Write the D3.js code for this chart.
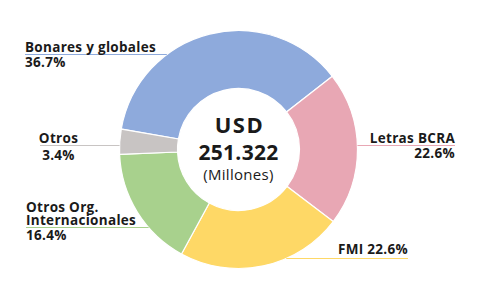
<!DOCTYPE html>
<html>
<head>
<meta charset="utf-8">
<script src="https://cdn.jsdelivr.net/npm/d3@7"></script>
<style>
  html, body { margin: 0; padding: 0; background: #fff; }
  svg { display: block; }
  text { font-family: "Open Sans", sans-serif; fill: #1a1a1a; }
</style>
</head>
<body>
<svg id="chart" width="480" height="300"></svg>
<script>
// ---- Data ----
const categories = ["Bonares y globales", "Letras BCRA", "FMI", "Otros Org. Internacionales", "Otros"];
const values = [36.7, 20.9, 22.6, 16.4, 3.4];           // slice shares (%)
const percentLabels = ["36.7%", "22.6%", "22.6%", "16.4%", "3.4%"]; // printed labels
const colors = ["#8eaadc", "#e8a7b4", "#fed866", "#a8d18d", "#c8c4c3"];
const centerLines = ["USD", "251.322", "(Millones)"];

// ---- Layout ----
const cx = 238.5, cy = 149.5, R = 119, r0 = 61;
const svg = d3.select("#chart");
const g = svg.append("g").attr("transform", `translate(${cx},${cy})`);

const startDeg = -80.1;
const pie = d3.pie().sort(null).value(d => d)
  .startAngle(startDeg * Math.PI / 180)
  .endAngle(startDeg * Math.PI / 180 + 2 * Math.PI);
const arc = d3.arc().innerRadius(r0).outerRadius(R);

g.selectAll("path.slice").data(pie(values)).join("path")
  .attr("class", "slice")
  .attr("d", arc)
  .attr("fill", (d, i) => colors[i])
  .attr("stroke", "#fff")
  .attr("stroke-width", 1.2);

// center text
g.append("text").attr("text-anchor", "middle").attr("x", 1).attr("y", -17)
  .style("font-weight", 700).style("font-size", "22px").style("letter-spacing", "1.5px").text(centerLines[0]);
g.append("text").attr("text-anchor", "middle").attr("y", 10.5)
  .style("font-weight", 700).style("font-size", "21px").style("letter-spacing", "0.3px").text(centerLines[1]);
g.append("text").attr("text-anchor", "middle").attr("y", 30)
  .style("font-weight", 400).style("font-size", "15px").style("letter-spacing", "0.3px").text(centerLines[2]);

// edge of donut at a given y
function edgeX(y, side) {
  const dy = y - cy;
  return cx + side * Math.sqrt(Math.max(0, R * R - dy * dy));
}

const labelSpecs = [
  { i: 0, lines: [categories[0], percentLabels[0]], anchor: "start", x: 25, ys: [52, 67], lineY: 54.5, side: -1, lx: 25 },
  { i: 4, lines: [categories[4], percentLabels[4]], anchor: "middle", x: 58.5, ys: [142.5, 159.5], lineY: 145.5, side: -1, lx: 40 },
  { i: 3, lines: ["Otros Org.", "Internacionales", percentLabels[3]], anchor: "start", x: 26, ys: [211.5, 225, 240], lineY: 227.5, side: -1, lx: 26 },
  { i: 1, lines: ["Letras BCRA", percentLabels[1]], anchor: "end", x: 455, ys: [142.5, 158], lineY: 145.5, side: 1, lx: 455 },
  { i: 2, lines: [categories[2] + " " + percentLabels[2]], anchor: "end", x: 408, ys: [254], lineY: 258.5, side: 1, lx: 408 }
];

labelSpecs.forEach(s => {
  svg.append("line")
    .attr("x1", s.lx).attr("x2", edgeX(s.lineY, s.side))
    .attr("y1", s.lineY).attr("y2", s.lineY)
    .attr("stroke", colors[s.i]).attr("stroke-width", 1.2);
  s.lines.forEach((t, k) => {
    svg.append("text").attr("x", s.x).attr("y", s.ys[k])
      .attr("text-anchor", s.anchor)
      .style("font-weight", 700).style("font-size", "13.5px")
      .style("letter-spacing", "0.3px")
      .text(t);
  });
});
</script>
</body>
</html>
